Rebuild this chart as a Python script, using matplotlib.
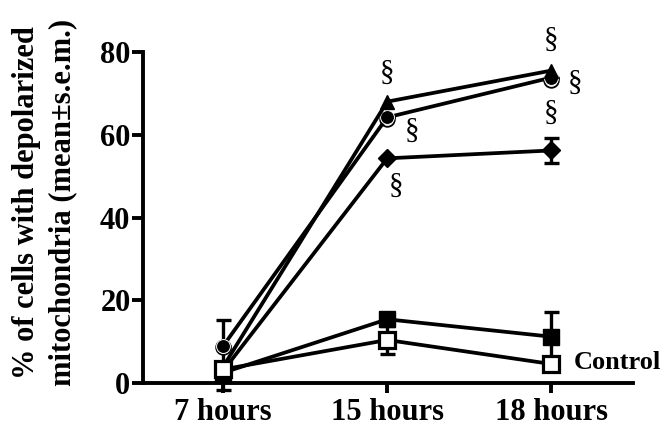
import matplotlib
matplotlib.use("Agg")
import matplotlib.pyplot as plt
import numpy as np

plt.rcParams['font.family'] = ['Liberation Serif', 'DejaVu Serif']

categories = ["7 hours", "15 hours", "18 hours"]
triangle_vals = [4.0, 68.0, 75.5]
circle_vals = [9.0, 64.2, 73.8]
open_circle_vals = [8.6, 63.7, 73.3]
diamond_vals = [3.0, 54.3, 56.2]
diamond_err = [0.0, 0.0, 3.0]
filled_sq_vals = [2.5, 15.4, 11.2]
filled_sq_err = [0.0, 0.0, 6.0]
control_vals = [3.3, 10.4, 4.6]
control_err = [5.0, 3.4, 0.0]
circle_err = [6.3, 0.0, 0.0]
yticks = [0, 20, 40, 60, 80]

fig = plt.figure(figsize=(6.63, 4.30), dpi=100)
ax = fig.add_axes([143/663, 47/430, (633-143)/663, (383-52)/430])
x = np.arange(len(categories))

lw = 2.7
ekw = dict(elinewidth=2.4, capsize=5.4, capthick=2.4, ecolor='black', clip_on=False)

ax.errorbar(x, control_vals, yerr=control_err, fmt='none', **ekw)
ax.errorbar(x, filled_sq_vals, yerr=filled_sq_err, fmt='none', **ekw)
ax.errorbar(x, diamond_vals, yerr=diamond_err, fmt='none', **ekw)
ax.errorbar(x, circle_vals, yerr=[np.zeros(3), circle_err], fmt='none', **ekw)

ax.plot(x, control_vals, color='black', lw=lw, marker='s', ms=11, mfc='white',
        mec='black', mew=2.3, zorder=6, clip_on=False)
ax.plot(x, filled_sq_vals, color='black', lw=lw, marker='s', ms=11, mfc='black',
        mec='black', zorder=5, clip_on=False)
ax.plot(x, diamond_vals, color='black', lw=lw, marker='D', ms=9, mfc='black',
        mec='black', zorder=4, clip_on=False)
ax.plot(x, open_circle_vals, linestyle='none', marker='o', ms=10.5, mfc='white',
        mec='black', mew=1.3, zorder=3, clip_on=False)
ax.plot(x, circle_vals, color='black', lw=lw, marker='o', ms=10, mfc='black',
        mec='white', mew=0.7, zorder=3.5, clip_on=False)
ax.plot(x, triangle_vals, color='black', lw=lw, marker='^', ms=10, mfc='black',
        mec='black', zorder=4, clip_on=False)

# significance marks
sig_kw = dict(textcoords='offset points', ha='center', va='center', fontsize=21)
ax.annotate('§', (1, triangle_vals[1]), xytext=(0, 21), **sig_kw)
ax.annotate('§', (1, circle_vals[1]), xytext=(18, -10), **sig_kw)
ax.annotate('§', (1, diamond_vals[1]), xytext=(6, -20), **sig_kw)
ax.annotate('§', (2, triangle_vals[2]), xytext=(0, 22), **sig_kw)
ax.annotate('§', (2, circle_vals[2]), xytext=(17, -4), **sig_kw)
ax.annotate('§', (2, diamond_vals[2]), xytext=(0, 27), **sig_kw)

ax.annotate('Control', (2, control_vals[2]), xytext=(16, 1), textcoords='offset points',
            ha='left', va='center', fontsize=19, fontweight='bold')

ax.set_xlim(-0.49, 2.5)
ax.set_ylim(0, 80)
ax.set_xticks(x)
ax.set_xticklabels(categories, fontsize=22, fontweight='bold')
ax.set_yticks(yticks)
ax.set_yticklabels([str(t) for t in yticks], fontsize=22, fontweight='bold')
ax.spines['top'].set_visible(False)
ax.spines['right'].set_visible(False)
for s in ['left', 'bottom']:
    ax.spines[s].set_linewidth(2.8)
ax.tick_params(axis='y', width=2.8, length=8, pad=1)
ax.tick_params(axis='x', width=2.8, length=7, pad=4)
ax.set_ylabel('% of cells with depolarized\nmitochondria (mean±s.e.m.)',
              fontsize=22, fontweight='bold', linespacing=1.3)
ax.yaxis.set_label_coords(-0.135, 0.545)

fig.savefig('out.png', dpi=100)
